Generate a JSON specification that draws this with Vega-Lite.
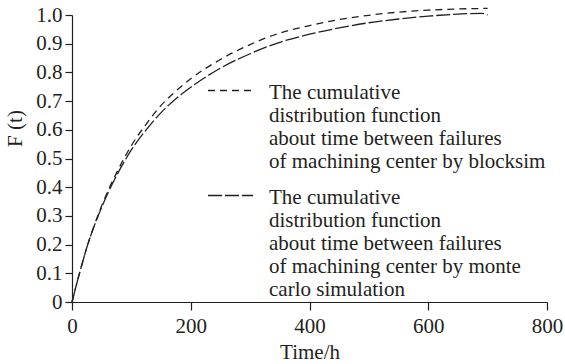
{
  "$schema": "https://vega.github.io/schema/vega-lite/v6.json",
  "width": 475,
  "height": 287,
  "autosize": {"type": "none"},
  "padding": {"left": 72, "top": 15, "right": 18, "bottom": 62},
  "background": "white",
  "config": {
    "view": {"stroke": null},
    "font": "Liberation Serif",
    "axis": {
      "grid": false,
      "domainColor": "#231f20",
      "tickColor": "#231f20",
      "labelColor": "#231f20",
      "titleColor": "#231f20",
      "labelFont": "Liberation Serif",
      "titleFont": "Liberation Serif",
      "labelFontSize": 21,
      "titleFontSize": 21,
      "titleFontWeight": "normal",
      "domainWidth": 1.2,
      "tickWidth": 1.2
    }
  },
  "data": {
    "values": [
      {"series": "blocksim", "t": 0, "F": 0},
      {"series": "blocksim", "t": 10, "F": 0.08},
      {"series": "blocksim", "t": 25, "F": 0.19},
      {"series": "blocksim", "t": 50, "F": 0.335},
      {"series": "blocksim", "t": 75, "F": 0.45},
      {"series": "blocksim", "t": 100, "F": 0.545},
      {"series": "blocksim", "t": 125, "F": 0.62},
      {"series": "blocksim", "t": 150, "F": 0.685},
      {"series": "blocksim", "t": 175, "F": 0.735},
      {"series": "blocksim", "t": 200, "F": 0.778},
      {"series": "blocksim", "t": 250, "F": 0.845},
      {"series": "blocksim", "t": 300, "F": 0.897},
      {"series": "blocksim", "t": 350, "F": 0.937},
      {"series": "blocksim", "t": 400, "F": 0.963},
      {"series": "blocksim", "t": 450, "F": 0.984},
      {"series": "blocksim", "t": 500, "F": 0.999},
      {"series": "blocksim", "t": 550, "F": 1.01},
      {"series": "blocksim", "t": 600, "F": 1.017},
      {"series": "blocksim", "t": 650, "F": 1.021},
      {"series": "blocksim", "t": 700, "F": 1.023},
      {"series": "monte carlo simulation", "t": 0, "F": 0},
      {"series": "monte carlo simulation", "t": 10, "F": 0.08},
      {"series": "monte carlo simulation", "t": 25, "F": 0.19},
      {"series": "monte carlo simulation", "t": 50, "F": 0.33},
      {"series": "monte carlo simulation", "t": 75, "F": 0.44},
      {"series": "monte carlo simulation", "t": 100, "F": 0.53},
      {"series": "monte carlo simulation", "t": 125, "F": 0.6},
      {"series": "monte carlo simulation", "t": 150, "F": 0.66},
      {"series": "monte carlo simulation", "t": 175, "F": 0.708},
      {"series": "monte carlo simulation", "t": 200, "F": 0.748},
      {"series": "monte carlo simulation", "t": 250, "F": 0.815},
      {"series": "monte carlo simulation", "t": 300, "F": 0.865},
      {"series": "monte carlo simulation", "t": 350, "F": 0.905},
      {"series": "monte carlo simulation", "t": 400, "F": 0.933},
      {"series": "monte carlo simulation", "t": 450, "F": 0.955},
      {"series": "monte carlo simulation", "t": 500, "F": 0.973},
      {"series": "monte carlo simulation", "t": 550, "F": 0.986},
      {"series": "monte carlo simulation", "t": 600, "F": 0.996},
      {"series": "monte carlo simulation", "t": 650, "F": 1.003},
      {"series": "monte carlo simulation", "t": 690, "F": 1.006},
      {"series": "monte carlo simulation", "t": 700, "F": 1.0}
    ]
  },
  "mark": {"type": "line", "color": "#231f20", "strokeWidth": 1.3, "interpolate": "monotone"},
  "encoding": {
    "x": {
      "field": "t",
      "type": "quantitative",
      "scale": {"domain": [0, 800], "nice": false},
      "axis": {
        "title": "Time/h",
        "values": [0, 200, 400, 600, 800],
        "tickSize": 8,
        "labelPadding": 5,
        "titlePadding": 5,
        "labelFlush": false
      }
    },
    "y": {
      "field": "F",
      "type": "quantitative",
      "scale": {"domain": [0, 1], "nice": false},
      "axis": {
        "title": "F (t)",
        "values": [0, 0.1, 0.2, 0.3, 0.4, 0.5, 0.6, 0.7, 0.8, 0.9, 1],
        "labelExpr": "datum.value == 0 ? '0' : format(datum.value, '.1f')",
        "tickSize": 7,
        "labelPadding": 3,
        "titleX": -57,
        "titleY": 113,
        "titleBaseline": "middle",
        "titleAlign": "center",
        "titleAngle": -90
      }
    },
    "strokeDash": {
      "field": "series",
      "type": "nominal",
      "scale": {"domain": ["blocksim", "monte carlo simulation"], "range": [[7, 5], [14, 3]]},
      "legend": {
        "orient": "none",
        "legendX": 144,
        "legendY": 52,
        "title": null,
        "padding": 0,
        "symbolType": "M-1.667,0.667L1.667,0.667",
        "symbolSize": 729,
        "symbolStrokeWidth": 1.3,
        "symbolStrokeColor": "#231f20",
        "labelFont": "Liberation Serif",
        "labelFontSize": 21,
        "labelColor": "#231f20",
        "labelBaseline": "top",
        "labelLineHeight": 23.3,
        "labelLimit": 0,
        "labelOffset": 24,
        "rowPadding": 0,
        "labelExpr": "datum.label == 'blocksim' ? ['The cumulative', 'distribution function', 'about time between failures', 'of machining center by blocksim'] : ['The cumulative', 'distribution function', 'about time between failures', 'of machining center by monte', 'carlo simulation']"
      }
    }
  }
}
